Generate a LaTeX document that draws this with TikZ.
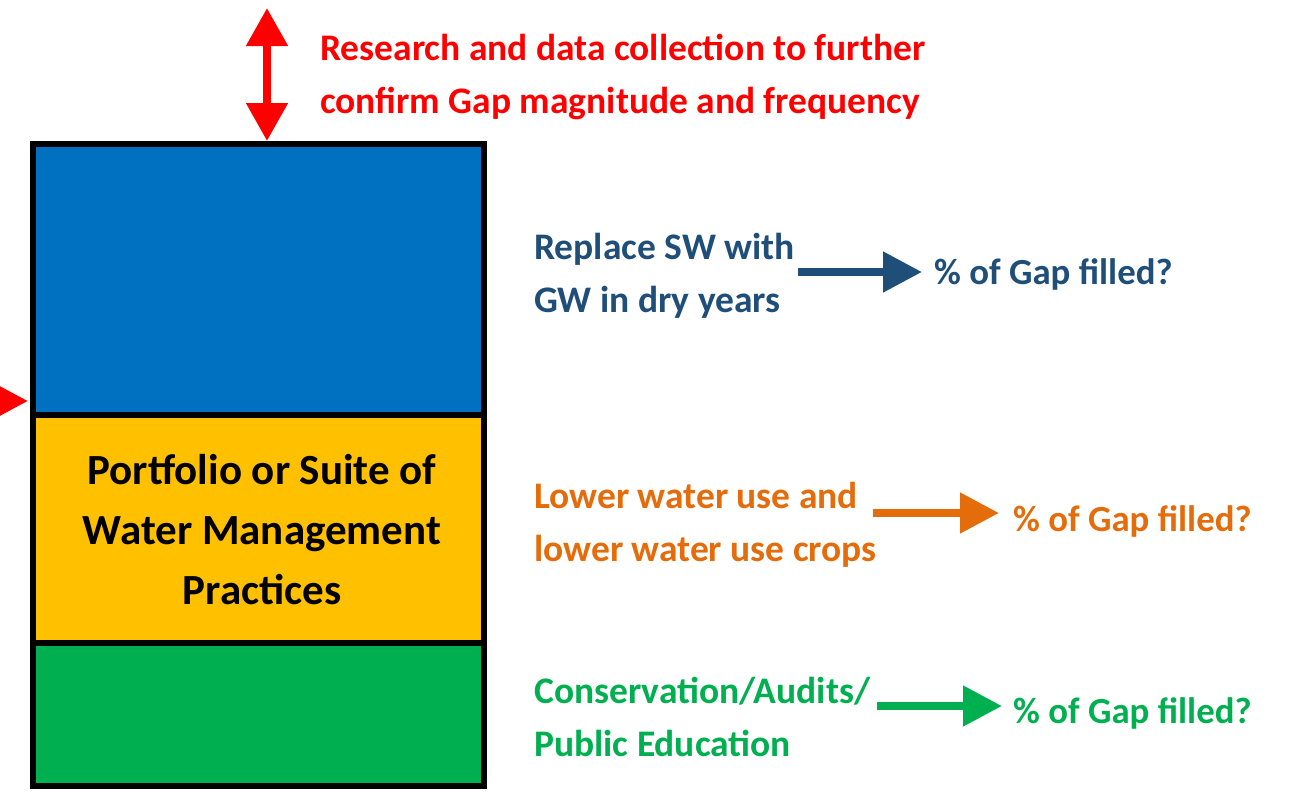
\documentclass[tikz,border=0pt]{standalone}
\usepackage{fontspec}
\setmainfont{Carlito}
\usetikzlibrary{arrows.meta}

\definecolor{boxblue}{HTML}{0070C0}
\definecolor{boxyellow}{HTML}{FFC000}
\definecolor{boxgreen}{HTML}{00B050}
\definecolor{darkblue}{HTML}{1F4E79}
\definecolor{darkorange}{HTML}{E46C0A}

\begin{document}
\begin{tikzpicture}[
  x=1pt, y=-1pt,
  layer_box/.style={draw, line width=6pt, inner sep=0pt, outer sep=0pt, minimum width=451pt},
  note_text/.style={align=left, inner sep=0pt, anchor=west, font=\bfseries\fontsize{37.5}{53}\selectfont},
  gap_text/.style={inner sep=0pt, anchor=west, font=\bfseries\fontsize{36.8}{42}\selectfont},
  fat_arrow/.style={line width=8pt, -{Triangle[length=39pt,width=39pt]}},
]
\useasboundingbox (0,0) rectangle (1291,793);

% the stacked boxes
\draw (258.5,279.5) node (blue_box) [layer_box, fill=boxblue, minimum height=271pt] {};
\draw (258.5,529) node (mid_box) [layer_box, fill=boxyellow, minimum height=228pt] {};
\draw (258.5,714.5) node (green_box) [layer_box, fill=boxgreen, minimum height=143pt] {};
\draw (262,530) node (mid_label) [align=center, inner sep=0pt, font=\bfseries\fontsize{43}{60}\selectfont] {Portfolio or Suite of\\Water Management\\Practices};

% red arrows and note
\coordinate (research_top) at (267,8);
\draw[red, line width=8pt, {Triangle[length=38pt,width=40pt]}-{Triangle[length=38pt,width=40pt]}] (research_top) -- ([yshift=3pt]blue_box.north -| research_top);
\coordinate (side_tail) at (-60,401);
\draw[red, fat_arrow] (side_tail) -- ([xshift=-5pt]blue_box.west |- side_tail);
\draw (320,76.5) node (research_txt) [note_text, text=red] {Research and data collection to further\\confirm Gap magnitude and frequency};

% blue row
\draw (534,276) node (replace_txt) [note_text, text=darkblue] {Replace SW with\\GW in dry years};
\draw (934,274) node (replace_gap) [gap_text, text=darkblue] {\% of Gap filled?};
\draw[darkblue, fat_arrow] (replace_txt.east |- replace_gap.west) ++(3,-2) -- ([xshift=-12pt,yshift=2pt]replace_gap.west);

% orange row
\draw (534,525) node (lower_txt) [note_text, text=darkorange] {Lower water use and\\lower water use crops};
\draw (1013,521) node (lower_gap) [gap_text, text=darkorange] {\% of Gap filled?};
\draw[darkorange, fat_arrow] (lower_txt.east |- lower_gap.west) ++(-4,-8) -- ([xshift=-14pt,yshift=8pt]lower_gap.west);

% green row
\draw (534,717) node (cons_txt) [note_text, text=boxgreen] {Conservation/Audits/\\Public Education};
\draw (1013,713) node (cons_gap) [gap_text, text=boxgreen] {\% of Gap filled?};
\draw[boxgreen, fat_arrow] (cons_txt.east |- cons_gap.west) ++(7,-7) -- ([xshift=-11pt,yshift=7pt]cons_gap.west);
\end{tikzpicture}
\end{document}
